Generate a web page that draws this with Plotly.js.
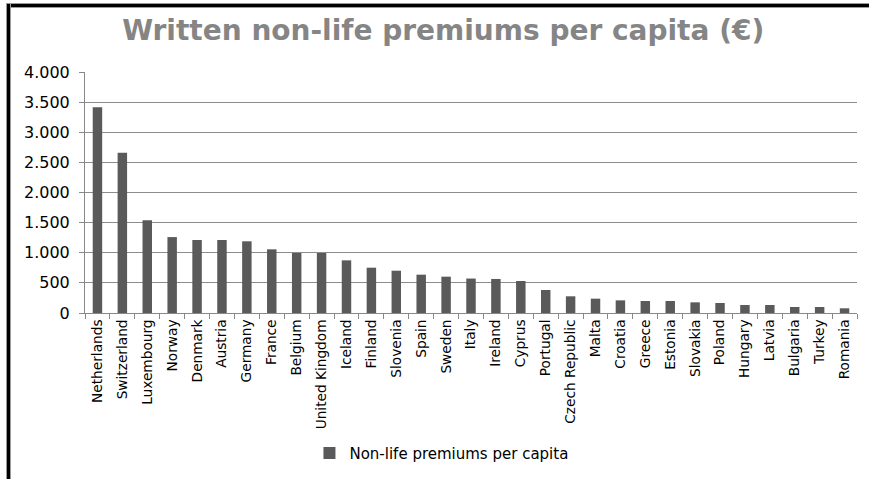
<!DOCTYPE html>
<html>
<head>
<meta charset="utf-8">
<script src="https://cdn.plot.ly/plotly-3.0.1.min.js"></script>
<style>
  html, body { margin: 0; padding: 0; background: #fff; }
  #wrap { position: relative; width: 869px; height: 479px; overflow: hidden; }
  #chart { position: absolute; left: 0; top: 0; width: 869px; height: 479px; }
  .bl { position: absolute; left: 7px; top: 4px; width: 3px; height: 475px; background: #000; box-shadow: 0 0 0 1px #9a9a9a; }
  .bt { position: absolute; left: 7px; top: 4px; width: 862px; height: 3px; background: #000; box-shadow: 0 0 0 1px #9a9a9a; }
</style>
</head>
<body>
<div id="wrap">
  <div id="chart"></div>
  <div class="bt"></div>
  <div class="bl"></div>
</div>
<script>
const countries = ["Netherlands","Switzerland","Luxembourg","Norway","Denmark","Austria","Germany","France","Belgium","United Kingdom","Iceland","Finland","Slovenia","Spain","Sweden","Italy","Ireland","Cyprus","Portugal","Czech Republic","Malta","Croatia","Greece","Estonia","Slovakia","Poland","Hungary","Latvia","Bulgaria","Turkey","Romania"];
const premiums = [3415,2660,1540,1260,1212,1212,1190,1057,996,996,874,752,702,636,603,572,565,531,382,277,238,210,199,199,177,166,133,133,100,100,78];
const seriesName = "Non-life premiums per capita";
const chartTitle = "Written non-life premiums per capita (€)";
const yTicks = [0,500,1000,1500,2000,2500,3000,3500,4000];

const FONT = "DejaVu Sans, Arial, sans-serif";

const data = [{
  type: "bar",
  x: countries,
  y: premiums,
  name: seriesName,
  marker: { color: "#5a5a5a", line: { width: 0 } },
  showlegend: true
}];

const layout = {
  width: 869, height: 479,
  paper_bgcolor: "#ffffff", plot_bgcolor: "#ffffff",
  separators: ",.",
  margin: { l: 85, r: 12, t: 72, b: 166 },
  font: { family: FONT, color: "#000" },
  bargap: 0.62,
  title: {
    text: chartTitle,
    font: { family: FONT, size: 28, color: "#858585", weight: "bold" },
    x: 0.51, xref: "container", xanchor: "center",
    y: 0.937, yref: "container", yanchor: "middle"
  },
  xaxis: {
    type: "category",
    tickangle: -90,
    tickson: "boundaries",
    ticks: "outside", ticklen: 5, tickcolor: "#888888", tickwidth: 1,
    showline: true, linecolor: "#888888", linewidth: 1,
    showgrid: false,
    tickfont: { family: FONT, size: 13.7, color: "#000" },
    automargin: false
  },
  yaxis: {
    range: [0, 4000],
    tickvals: yTicks,
    tickformat: ",d",
    ticks: "outside", ticklen: 5, tickcolor: "#888888", tickwidth: 1,
    ticklabelstandoff: 6,
    showline: true, linecolor: "#888888", linewidth: 1,
    showgrid: true, gridcolor: "#8c8c8c", gridwidth: 1,
    zeroline: false,
    tickfont: { family: FONT, size: 16, color: "#000" },
    automargin: false
  },
  showlegend: true,
  legend: {
    orientation: "h",
    x: 0.508, xref: "container", xanchor: "center",
    y: 0.054, yref: "container", yanchor: "middle",
    font: { family: FONT, size: 15, color: "#000" },
    itemwidth: 30
  }
};

Plotly.newPlot("chart", data, layout, { staticPlot: true, displayModeBar: false });
</script>
</body>
</html>
